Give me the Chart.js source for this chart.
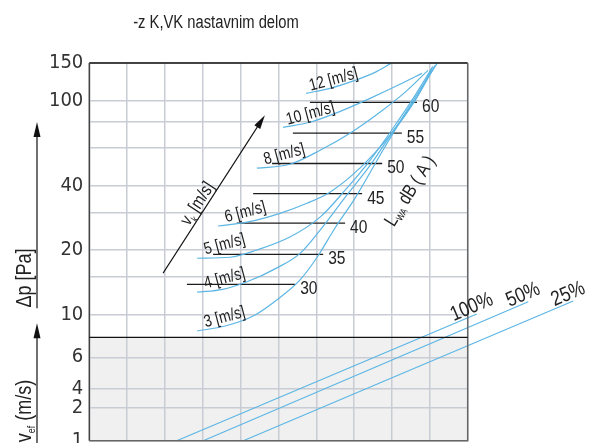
<!DOCTYPE html>
<html>
<head>
<meta charset="utf-8">
<script src="https://cdn.jsdelivr.net/npm/chart.js@4.4.1/dist/chart.umd.min.js"></script>
<style>
  html, body { margin: 0; padding: 0; background: #fff; }
  #wrap { width: 594px; height: 443px; position: relative; }
</style>
</head>
<body>
<div id="wrap"><canvas id="nomogram"></canvas></div>
<script>
const FONT = "'DejaVu Sans Condensed', 'Liberation Sans', sans-serif";
const TXT_FONT = "'Liberation Sans', Arial, sans-serif";
const SQUEEZE = 0.82;
const BLUE = "#5cb6e4";
const GRID = "#c8ccd4";

// axis ticks
const dpGrid = [10, 15, 20, 30, 40, 60, 80, 100, 150];
const dpLabels = [10, 20, 40, 100, 150];
const vefTickPos = [0, 3.19, 5.0, 8.07];
const vefTickLabels = ["1", "2", "4", "6"];

// pressure drop curves per vk (x = grid column, y = Pa)
const speedLabels = ["3 [m/s]", "4 [m/s]", "5 [m/s]", "6 [m/s]", "8 [m/s]", "10 [m/s]", "12 [m/s]"];
const speed3 = [[2.85, 8.36], [3.59, 8.82], [4.33, 9.82], [5.04, 12.0], [5.57, 14.5], [6.02, 18.5], [6.49, 25.3], [7.02, 34.9], [7.76, 58.6], [8.48, 95.0], [9.19, 149.4]];
const speed4 = [[2.85, 12.7], [3.53, 13.1], [4.17, 14.2], [4.96, 16.5], [5.57, 19.3], [6.10, 24.8], [6.76, 35.3], [7.42, 49.8], [8.08, 74.2], [8.69, 105.9], [9.14, 146.2]];
const speed5 = [[2.85, 18.3], [3.72, 18.5], [4.43, 20.0], [5.30, 23.0], [6.10, 28.5], [6.76, 38.1], [7.42, 52.6], [8.08, 76.7], [8.61, 105.9], [9.08, 144.6]];
const speed6 = [[3.40, 25.9], [4.17, 27.0], [5.04, 29.7], [5.75, 33.1], [6.36, 37.3], [7.15, 48.3], [7.95, 68.9], [8.61, 100.3], [9.06, 141.6]];
const speed8 = [[4.43, 48.3], [5.30, 50.4], [6.10, 58.6], [6.89, 70.4], [7.68, 88.2], [8.34, 109.3], [8.95, 138.5]];
const speed10 = [[5.12, 75.0], [5.83, 79.2], [6.63, 89.1], [7.42, 102.5], [8.21, 119.2], [8.79, 134.1]];
const speed12 = [[5.73, 108.2], [6.36, 114.2], [7.02, 124.4], [7.55, 135.6], [7.97, 149.4]];
const speedCurves = [speed3, speed4, speed5, speed6, speed8, speed10, speed12];

// sound power levels LWA dB(A)
const levelValues = [30, 35, 40, 45, 50, 55, 60];
const levelY = [13.8, 19.1, 26.7, 36.7, 50.8, 70.4, 98.2];
const levelXStart = [2.58, 3.27, 3.90, 4.33, 4.83, 5.38, 5.83];
const levelXEnd = [5.44, 6.18, 6.76, 7.21, 7.74, 8.26, 8.66];

// damper opening lines in the vef part
const pctLabels = ["100%", "50%", "25%"];
const pctStart = [[2.31, 0], [3.01, 0], [4.07, 0]];
const pctEnd = [[10.24, 12.25], [11.60, 13.44], [12.79, 13.51]];

// vk arrow and LWA caption anchor
const vkArrow = [[1.95, 15.6], [4.64, 85.4]];
const lwaAnchor = [8.45, 38];

const toPts = (arr) => arr.map((p) => ({ x: p[0], y: p[1] }));

const datasets = [];
speedCurves.forEach((pts, i) => {
  datasets.push({
    label: speedLabels[i],
    data: toPts(pts),
    yAxisID: "y",
    borderColor: BLUE,
    borderWidth: 1.2,
    pointRadius: 0,
    cubicInterpolationMode: "monotone",
  });
});
levelValues.forEach((v, i) => {
  datasets.push({
    label: "LWA " + v,
    data: [{ x: levelXStart[i], y: levelY[i] }, { x: levelXEnd[i], y: levelY[i] }],
    yAxisID: "y",
    borderColor: "#1c1c1c",
    borderWidth: 1.3,
    pointRadius: 0,
  });
});
pctLabels.forEach((l, i) => {
  datasets.push({
    label: l,
    data: toPts([pctStart[i], pctEnd[i]]),
    yAxisID: "y2",
    borderColor: BLUE,
    borderWidth: 1.2,
    pointRadius: 0,
    clip: false,
  });
});

// condensed text: parts = [text, size, dy]
function richText(ctx, parts, x, y, angle, align) {
  ctx.save();
  ctx.translate(x, y);
  ctx.rotate(angle || 0);
  ctx.scale(SQUEEZE, 1);
  let w = 0;
  parts.forEach((p) => { ctx.font = p[1] + "px " + TXT_FONT; w += ctx.measureText(p[0]).width; });
  const shift = parts[0][1] * 0.36;
  let cx = align === "left" ? 0 : -w / 2;
  ctx.textAlign = "left";
  ctx.textBaseline = "alphabetic";
  parts.forEach((p) => {
    ctx.font = p[1] + "px " + TXT_FONT;
    ctx.fillText(p[0], cx, shift + (p[2] || 0));
    cx += ctx.measureText(p[0]).width;
  });
  ctx.restore();
}

function arrow(ctx, x1, y1, x2, y2, len, half) {
  const a = Math.atan2(y2 - y1, x2 - x1);
  const c = Math.cos(a), s = Math.sin(a);
  ctx.beginPath();
  ctx.moveTo(x1, y1);
  ctx.lineTo(x2 - c * len * 0.6, y2 - s * len * 0.6);
  ctx.stroke();
  ctx.beginPath();
  ctx.moveTo(x2, y2);
  ctx.lineTo(x2 - len * c + half * s, y2 - len * s - half * c);
  ctx.lineTo(x2 - len * c - half * s, y2 - len * s + half * c);
  ctx.closePath();
  ctx.fill();
}

const overlay = {
  id: "overlay",
  beforeDraw(chart) {
    const { ctx, chartArea: a, scales } = chart;
    ctx.save();
    ctx.fillStyle = "#f0f0f0";
    ctx.fillRect(a.left, scales.y2.top, a.right - a.left, scales.y2.bottom - scales.y2.top);
    ctx.restore();
  },
  afterDraw(chart) {
    const { ctx, chartArea: a, scales } = chart;
    const xs = scales.x, y = scales.y, y2 = scales.y2;
    ctx.save();

    // frame
    ctx.lineWidth = 1.5;
    ctx.strokeStyle = "#111";
    ctx.beginPath(); ctx.moveTo(a.left, a.top); ctx.lineTo(a.right, a.top); ctx.stroke();
    ctx.strokeStyle = "#444";
    ctx.beginPath(); ctx.moveTo(a.left, a.top); ctx.lineTo(a.left, a.bottom); ctx.stroke();
    ctx.strokeStyle = "#666";
    ctx.beginPath(); ctx.moveTo(a.right, a.top); ctx.lineTo(a.right, a.bottom); ctx.lineTo(a.left, a.bottom); ctx.stroke();
    ctx.strokeStyle = "#111";
    ctx.lineWidth = 1.3;
    ctx.beginPath(); ctx.moveTo(a.left, y2.top); ctx.lineTo(a.right, y2.top); ctx.stroke();

    ctx.fillStyle = "#222";
    // title
    richText(ctx, [["-z K,VK nastavnim delom", 18]], 216, 22, 0);

    // left axis captions with arrows
    ctx.strokeStyle = "#111";
    ctx.fillStyle = "#111";
    ctx.lineWidth = 1.2;
    arrow(ctx, 37, y2.top - 29, 37, a.top + 59, 15, 3.5);
    arrow(ctx, 37, 443, 37, y2.top - 14, 15, 3.5);
    ctx.fillStyle = "#222";
    richText(ctx, [["Δp [Pa]", 22]], 23, 278, -Math.PI / 2);
    richText(ctx, [["v", 22], ["ef", 11, 4], [" (m/s)", 22]], 23, 411, -Math.PI / 2);

    // speed labels
    speedCurves.forEach((pts, i) => {
      const px = xs.getPixelForValue(pts[0][0]);
      const py = y.getPixelForValue(pts[0][1]);
      richText(ctx, [[speedLabels[i], 17]], px + 27, py - 15, -15 * Math.PI / 180);
    });

    // level labels
    levelValues.forEach((v, i) => {
      richText(ctx, [[String(v), 19]], xs.getPixelForValue(levelXEnd[i]) + 5, y.getPixelForValue(levelY[i]) + 3, 0, "left");
    });

    // vk arrow
    const ax1 = xs.getPixelForValue(vkArrow[0][0]), ay1 = y.getPixelForValue(vkArrow[0][1]);
    const ax2 = xs.getPixelForValue(vkArrow[1][0]), ay2 = y.getPixelForValue(vkArrow[1][1]);
    ctx.strokeStyle = "#111";
    ctx.fillStyle = "#111";
    ctx.lineWidth = 1.1;
    arrow(ctx, ax1, ay1, ax2, ay2, 14, 3.5);
    const ang = Math.atan2(ay2 - ay1, ax2 - ax1);
    const L = Math.hypot(ax2 - ax1, ay2 - ay1);
    const nx = Math.sin(ang), ny = -Math.cos(ang);
    const tx = ax1 + Math.cos(ang) * L * 0.41 + nx * 10;
    const ty = ay1 + Math.sin(ang) * L * 0.41 + ny * 10;
    ctx.fillStyle = "#222";
    richText(ctx, [["v", 18], ["k", 10, 4], [" [m/s]", 18]], tx, ty, ang);

    // LWA caption
    richText(ctx, [["L", 19], ["WA", 10, 3], [" dB ( A )", 19]],
      xs.getPixelForValue(lwaAnchor[0]), y.getPixelForValue(lwaAnchor[1]), -58 * Math.PI / 180);

    // percentage labels
    pctLabels.forEach((l, i) => {
      const sx = xs.getPixelForValue(pctStart[i][0]), sy = y2.getPixelForValue(pctStart[i][1]);
      const ex = xs.getPixelForValue(pctEnd[i][0]), ey = y2.getPixelForValue(pctEnd[i][1]);
      const an = Math.atan2(ey - sy, ex - sx);
      const cx = ex - 2 * Math.cos(an) + 10 * Math.sin(an);
      const cy = ey - 2 * Math.sin(an) - 10 * Math.cos(an);
      richText(ctx, [[l, 21]], cx, cy, an);
    });

    ctx.restore();
  },
};

new Chart(document.getElementById("nomogram"), {
  type: "line",
  data: { datasets },
  options: {
    responsive: true,
    maintainAspectRatio: false,
    animation: false,
    layout: { padding: { left: 0, top: 63, right: 126.3, bottom: 2.3 } },
    plugins: { legend: { display: false }, tooltip: { enabled: false } },
    scales: {
      x: {
        type: "linear",
        min: 0,
        max: 10,
        grid: { color: GRID, lineWidth: 1.5, drawTicks: false },
        border: { display: false },
        ticks: { display: false, stepSize: 1 },
        afterFit: (s) => { s.height = 0; },
      },
      y2: {
        type: "linear",
        position: "left",
        stack: "dp",
        stackWeight: 103.4,
        min: 0,
        max: 10,
        afterBuildTicks: (s) => { s.ticks = vefTickPos.map((v) => ({ value: v })); },
        ticks: {
          autoSkip: false,
          padding: 6,
          color: "#333",
          font: { family: FONT, size: 20 },
          callback: (v) => { const i = vefTickPos.indexOf(v); return i >= 0 ? vefTickLabels[i] : ""; },
        },
        grid: { color: GRID, lineWidth: 1.5, drawTicks: false },
        border: { display: false },
        afterFit: (s) => { s.width = 89.3; s.paddingTop = 0; s.paddingBottom = 0; },
      },
      y: {
        type: "logarithmic",
        position: "left",
        stack: "dp",
        stackWeight: 274.3,
        min: 7.81,
        max: 150,
        afterBuildTicks: (s) => { s.ticks = dpGrid.map((v) => ({ value: v })); },
        ticks: {
          autoSkip: false,
          padding: 6,
          color: "#333",
          font: { family: FONT, size: 20 },
          callback: (v) => (dpLabels.includes(v) ? String(v) : ""),
        },
        grid: { color: GRID, lineWidth: 1.5, drawTicks: false },
        border: { display: false },
        afterFit: (s) => { s.width = 89.3; s.paddingTop = 0; s.paddingBottom = 0; },
      },
    },
  },
  plugins: [overlay],
});
</script>
</body>
</html>
